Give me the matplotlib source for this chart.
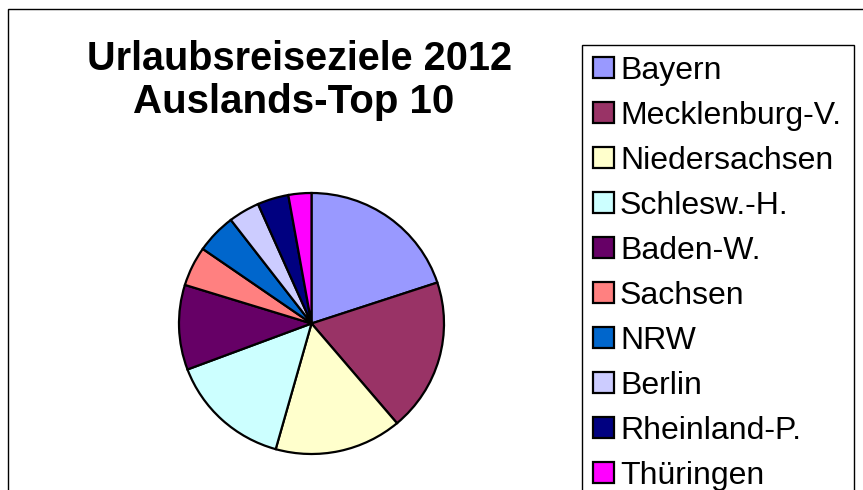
import matplotlib
matplotlib.use("Agg")
import matplotlib.pyplot as plt
from matplotlib.patches import Rectangle

plt.rcParams['font.family'] = ['Liberation Sans', 'DejaVu Sans']

# Anteile der Bundesländer (in %)
laender = ['Bayern', 'Mecklenburg-V.', 'Niedersachsen', 'Schlesw.-H.', 'Baden-W.',
           'Sachsen', 'NRW', 'Berlin', 'Rheinland-P.', 'Thüringen']
anteile = [19.9, 18.9, 15.5, 14.9, 10.5, 4.9, 4.9, 3.8, 3.8, 2.8]
farben = ['#9999FF', '#993366', '#FFFFCC', '#CCFFFF', '#660066',
          '#FF8080', '#0066CC', '#CCCCFF', '#000080', '#FF00FF']

W, H = 863, 490
fig = plt.figure(figsize=(W / 100, H / 100), dpi=100)

# Rahmen um das Diagramm
fig.add_artist(Rectangle((8 / W, -0.1), 1.2, 1 - 9 / H + 0.1, transform=fig.transFigure,
                         fill=False, edgecolor='black', lw=1.0))

# Titel (zwei Zeilen)
fig.text(300 / W, 1 - 70 / H, 'Urlaubsreiseziele 2012', ha='center', va='baseline',
         fontsize=28.5, fontweight='bold')
fig.text(294 / W, 1 - 113 / H, 'Auslands-Top 10', ha='center', va='baseline',
         fontsize=29, fontweight='bold')

# Kreisdiagramm
ax = fig.add_axes([179 / W, 36 / H, 265 / W, 261 / H])
wedges, _ = ax.pie(anteile, colors=farben, startangle=90, counterclock=False,
                   wedgeprops=dict(edgecolor='black', linewidth=1.6))
ax.set_aspect('auto')
ax.set_xlim(-1, 1)
ax.set_ylim(-1, 1)
ax.axis('off')

# Legende
leg = fig.legend(wedges, laender, loc='upper left',
                 bbox_to_anchor=(582 / W, 1 - 45 / H, (854 - 582) / W, 0),
                 bbox_transform=fig.transFigure, mode='expand', borderaxespad=0,
                 fontsize=23, handlelength=0.66, handleheight=0.63, handletextpad=0.2,
                 labelspacing=0.47, borderpad=0.33, fancybox=False, framealpha=1)
leg.get_frame().set_edgecolor('black')
leg.get_frame().set_linewidth(1.0)

fig.savefig('out.png', dpi=100)
